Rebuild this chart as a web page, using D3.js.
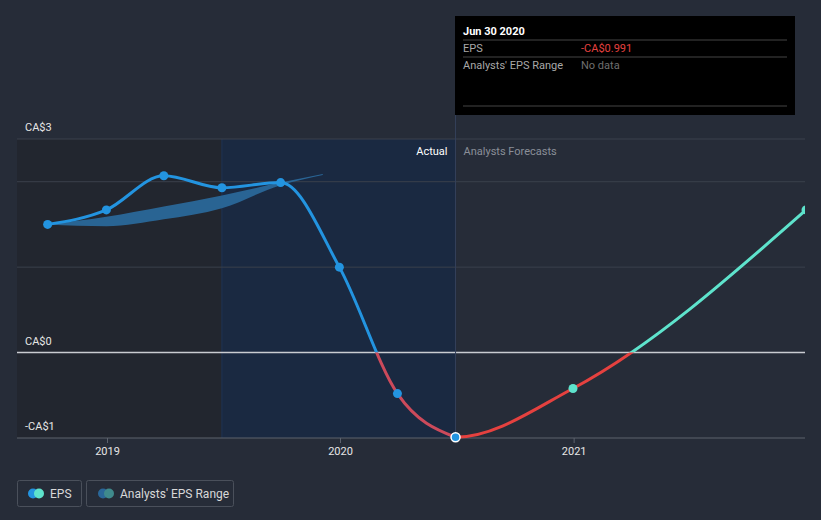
<!DOCTYPE html>
<html><head><meta charset="utf-8">
<script src="https://cdn.jsdelivr.net/npm/d3@7"></script>
<style>
html,body{margin:0;padding:0;background:#262c38;}
svg{display:block;font-family:Roboto,"Open Sans",sans-serif;}
</style></head><body>
<svg id="c" width="821" height="520"></svg>
<script>
// ---- data ----
const actualDates = ["2018-09-30","2018-12-31","2019-03-31","2019-06-30","2019-09-30","2019-12-31","2020-03-31","2020-06-30"];
const actualEPS   = [1.50, 1.67, 2.07, 1.93, 1.99, 1.00, -0.48, -0.991];
const forecastDates = ["2020-06-30","2020-12-31","2021-12-31"];
const forecastEPS   = [-0.991, -0.42, 1.67];
const rangeDates = ["2018-09-30","2018-12-31","2019-03-31","2019-06-30","2019-09-30","2019-12-05"];
const rangeLow   = [1.50, 1.48, 1.56, 1.69, 1.96, 2.08];
const rangeHigh  = [1.50, 1.59, 1.71, 1.84, 1.99, 2.09];
const yTickValues = [2.5, 2, 1, 0, -1];
const yTickLabels = {"2.5":"CA$3","0":"CA$0","-1":"-CA$1"};
const xTickYears = ["2019","2020","2021"];
const tooltipDate = "Jun 30 2020";
const tooltipEPS = "-CA$0.991";

const parse = d3.timeParse("%Y-%m-%d");
const svg = d3.select("#c");
const L = 17, R = 805, T = 139, B = 438;

const x = d3.scaleTime().domain([new Date(2019,0,1), new Date(2020,0,1)]).range([107,340]);
const y = d3.scaleLinear().domain([-1, 2.5]).range([B, T]);

const highlightStart = parse("2019-06-30");
const nowDate = parse("2020-06-30");

const defs = svg.append("defs");
defs.append("clipPath").attr("id","plot").append("rect")
  .attr("x", L).attr("y", 0).attr("width", R - L).attr("height", B + 10);
defs.append("clipPath").attr("id","pos").append("rect")
  .attr("x", L).attr("y", 0).attr("width", R - L).attr("height", y(0));
defs.append("clipPath").attr("id","neg").append("rect")
  .attr("x", L).attr("y", y(0)).attr("width", R - L).attr("height", 200);
defs.append("clipPath").attr("id","future").append("rect")
  .attr("x", x(nowDate)).attr("y", 0).attr("width", R - x(nowDate)).attr("height", B + 10);

// background shading
svg.append("rect").attr("x", L).attr("y", T).attr("width", x(highlightStart) - L).attr("height", B - T)
  .attr("fill", "#22262f");
svg.append("rect").attr("x", x(highlightStart)).attr("y", T).attr("width", x(nowDate) - x(highlightStart)).attr("height", B - T)
  .attr("fill", "#1a2941");
svg.append("line").attr("x1", x(highlightStart)).attr("x2", x(highlightStart)).attr("y1", T).attr("y2", B)
  .attr("stroke", "#1f3354").attr("stroke-width", 1);

// gridlines
yTickValues.forEach(v => {
  let stroke = "#3a404c", w = 1;
  if (v === 0) { stroke = "#c9ccd1"; w = 1.5; }
  if (v === -1) { stroke = "#5c626d"; w = 1.2; }
  svg.append("line").attr("x1", L).attr("x2", R).attr("y1", y(v)).attr("y2", y(v))
    .attr("stroke", stroke).attr("stroke-width", w);
  const lab = yTickLabels[String(v)];
  if (lab) {
    svg.append("text").attr("x", 25).attr("y", y(v) - 8).text(lab)
      .attr("fill", "#e6e6e6").attr("font-size", 11);
  }
});

svg.append("line").attr("x1", x(nowDate)).attr("x2", x(nowDate)).attr("y1", 16).attr("y2", B)
  .attr("stroke", "#34405a").attr("stroke-width", 1);

// x axis ticks
const xAxis = d3.axisBottom(x).tickValues(xTickYears.map(yy => new Date(+yy, 0, 1)))
  .tickFormat(d3.timeFormat("%Y")).tickSize(5).tickPadding(4);
const gx = svg.append("g").attr("transform", `translate(0,${B})`).call(xAxis);
gx.select(".domain").remove();
gx.selectAll(".tick line").attr("stroke", "#5c626d");
gx.selectAll(".tick text").attr("fill", "#e6e6e6").attr("font-size", 11).attr("font-family", "Roboto,sans-serif");

svg.append("text").attr("x", x(nowDate) - 8).attr("y", 155).attr("text-anchor", "end")
  .attr("fill", "#ffffff").attr("font-size", 11).text("Actual");
svg.append("text").attr("x", x(nowDate) + 8).attr("y", 155)
  .attr("fill", "#8a8f98").attr("font-size", 11).text("Analysts Forecasts");

const plot = svg.append("g").attr("clip-path", "url(#plot)");

// analysts range band
const rangeData = rangeDates.map((d, i) => ({d: parse(d), lo: rangeLow[i], hi: rangeHigh[i]}));
plot.append("path").datum(rangeData)
  .attr("d", d3.area().x(d => x(d.d)).y0(d => y(d.lo)).y1(d => y(d.hi)).curve(d3.curveMonotoneX))
  .attr("fill", "#2a6799").attr("opacity", 0.95);

const line = d3.line().x(d => x(d.d)).y(d => y(d.v)).curve(d3.curveMonotoneX);

// actual line
const actualData = actualDates.map((d, i) => ({d: parse(d), v: actualEPS[i]}));
plot.append("g").attr("clip-path", "url(#pos)").append("path").datum(actualData)
  .attr("d", line).attr("fill", "none").attr("stroke", "#2394e0").attr("stroke-width", 3);
plot.append("g").attr("clip-path", "url(#neg)").append("path").datum(actualData)
  .attr("d", line).attr("fill", "none").attr("stroke", "#cc4a5b").attr("stroke-width", 3);

// forecast line (continues smoothly from the last actual points, drawn only after now)
const forecastData = forecastDates.map((d, i) => ({d: parse(d), v: forecastEPS[i]}));
const forecastPath = actualData.slice(-2, -1).concat(forecastData);
const fut = plot.append("g").attr("clip-path", "url(#future)");
fut.append("g").attr("clip-path", "url(#pos)").append("path").datum(forecastPath)
  .attr("d", line).attr("fill", "none").attr("stroke", "#5ee3cc").attr("stroke-width", 3);
fut.append("g").attr("clip-path", "url(#neg)").append("path").datum(forecastPath)
  .attr("d", line).attr("fill", "none").attr("stroke", "#e5413f").attr("stroke-width", 3);

// markers
plot.selectAll(".am").data(actualData.slice(0, -1)).join("circle")
  .attr("cx", d => x(d.d)).attr("cy", d => y(d.v)).attr("r", 4.5).attr("fill", "#2394e0");
plot.selectAll(".fm").data(forecastData.slice(1)).join("circle")
  .attr("cx", d => x(d.d)).attr("cy", d => y(d.v)).attr("r", 4.5).attr("fill", "#5ee3cc");
const last = actualData[actualData.length - 1];
svg.append("circle").attr("cx", x(last.d)).attr("cy", y(last.v)).attr("r", 4.5)
  .attr("fill", "#2394e0").attr("stroke", "#ffffff").attr("stroke-width", 1.5);

// tooltip
const tt = svg.append("g");
tt.append("rect").attr("x", 455).attr("y", 16).attr("width", 340).attr("height", 99).attr("fill", "#000000");
tt.append("text").attr("x", 463).attr("y", 35).attr("fill", "#ffffff").attr("font-size", 11)
  .attr("font-weight", "bold").text(tooltipDate);
[40, 57, 106].forEach(yy => tt.append("line").attr("x1", 463).attr("x2", 787).attr("y1", yy).attr("y2", yy)
  .attr("stroke", "#444444").attr("stroke-width", 1));
tt.append("text").attr("x", 463).attr("y", 52).attr("fill", "#a8a8a8").attr("font-size", 11).text("EPS");
tt.append("text").attr("x", 581).attr("y", 52).attr("fill", "#e5413f").attr("font-size", 11).text(tooltipEPS);
tt.append("text").attr("x", 463).attr("y", 69).attr("fill", "#a8a8a8").attr("font-size", 11).text("Analysts' EPS Range");
tt.append("text").attr("x", 581).attr("y", 69).attr("fill", "#6f6f6f").attr("font-size", 11).text("No data");

// legend
const lg = svg.append("g");
lg.append("rect").attr("x", 17.5).attr("y", 480.5).attr("width", 64).attr("height", 26).attr("rx", 2)
  .attr("fill", "none").attr("stroke", "#4a505b");
lg.append("circle").attr("cx", 33).attr("cy", 493.5).attr("r", 5).attr("fill", "#2394e0");
lg.append("circle").attr("cx", 39).attr("cy", 493.5).attr("r", 5).attr("fill", "#5ee3cc");
lg.append("text").attr("x", 50).attr("y", 497.5).attr("fill", "#d8d8d8").attr("font-size", 12).text("EPS");
lg.append("rect").attr("x", 86.5).attr("y", 480.5).attr("width", 147).attr("height", 26).attr("rx", 2)
  .attr("fill", "none").attr("stroke", "#4a505b");
lg.append("circle").attr("cx", 103).attr("cy", 493.5).attr("r", 5).attr("fill", "#2a6799");
lg.append("circle").attr("cx", 109).attr("cy", 493.5).attr("r", 5).attr("fill", "#3f8a8c");
lg.append("text").attr("x", 120).attr("y", 497.5).attr("fill", "#d8d8d8").attr("font-size", 12).text("Analysts' EPS Range");
</script>
</body></html>
